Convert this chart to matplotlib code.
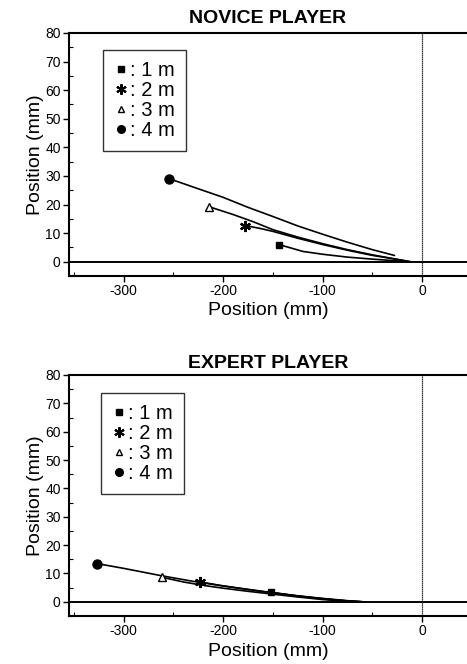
import matplotlib
matplotlib.use('Agg')
import matplotlib.pyplot as plt
from matplotlib.lines import Line2D
from matplotlib.ticker import MultipleLocator

plt.rcParams['font.family'] = ['Liberation Sans', 'DejaVu Sans']
plt.rcParams['axes.unicode_minus'] = False

# novice player trajectories (x, y in mm), first point is the start marker
nov_1m_x = [-144, -120, -100, -75, -50, -30, -15]
nov_1m_y = [6, 3.6, 2.6, 1.6, 0.9, 0.4, 0]
nov_2m_x = [-178, -165, -150, -125, -100, -75, -50, -25, -12]
nov_2m_y = [12.6, 11.8, 10.6, 8.2, 6.0, 4.0, 2.2, 0.8, 0]
nov_3m_x = [-214, -190, -170, -150, -125, -100, -75, -50, -25, -12]
nov_3m_y = [19.2, 16.5, 14.0, 11.2, 8.6, 6.3, 4.2, 2.4, 0.8, 0]
nov_4m_x = [-254, -225, -200, -175, -150, -125, -100, -75, -50, -28]
nov_4m_y = [29, 25.5, 22.5, 19.0, 15.8, 12.5, 9.6, 6.8, 4.2, 2.2]

# expert player trajectories
exp_1m_x = [-152, -125, -100, -75, -60]
exp_1m_y = [3.4, 2.0, 1.0, 0.3, 0]
exp_2m_x = [-223, -200, -175, -150, -125, -100, -75, -60]
exp_2m_y = [7.0, 5.6, 4.4, 3.2, 2.1, 1.1, 0.3, 0]
exp_3m_x = [-262, -240, -220, -200, -175, -150, -125, -100, -75, -60]
exp_3m_y = [8.7, 7.0, 5.8, 4.8, 3.7, 2.7, 1.7, 0.8, 0.2, 0]
exp_4m_x = [-327, -300, -262, -230, -200, -175, -150, -125, -100, -75, -60]
exp_4m_y = [13.5, 11.8, 9.2, 7.2, 5.6, 4.3, 3.1, 2.1, 1.2, 0.4, 0]

labels = [': 1 m', ': 2 m', ': 3 m', ': 4 m']
markers = ['s', (6, 2, 0), '^', 'o']
facecols = ['black', 'black', 'white', 'black']
msizes = [5, 8, 6, 6.5]
legsizes = [4.5, 7.5, 5, 5.5]

panels = [
    ('NOVICE PLAYER', [(nov_1m_x, nov_1m_y), (nov_2m_x, nov_2m_y),
                       (nov_3m_x, nov_3m_y), (nov_4m_x, nov_4m_y)]),
    ('EXPERT PLAYER', [(exp_1m_x, exp_1m_y), (exp_2m_x, exp_2m_y),
                       (exp_3m_x, exp_3m_y), (exp_4m_x, exp_4m_y)]),
]
positions = [[69 / 467, 388 / 664, 398 / 467, 243 / 664],
             [69 / 467, 48 / 664, 398 / 467, 241 / 664]]
leg_anchor = [(0.085, 0.93), (0.08, 0.925)]
title_pad = [7, 5]

fig = plt.figure(figsize=(4.67, 6.64), dpi=100)

for (title, series), pos, anc, tp in zip(panels, positions, leg_anchor, title_pad):
    ax = fig.add_axes(pos)
    ax.set_xlim(-355, 45)
    ax.set_ylim(-5, 80)

    ax.axhline(0, color='black', lw=1.4, zorder=1)
    ax.axvline(0, color='black', lw=0.9, ls=(0, (1, 0.6)), zorder=1)

    for (xs, ys), m, fc, ms in zip(series, markers, facecols, msizes):
        ax.plot(xs, ys, color='black', lw=1.2, zorder=2)
        ax.plot(xs[0], ys[0], marker=m, color='black', mfc=fc, mec='black',
                ms=ms, mew=1.6 if m == (6, 2, 0) else 1.0, ls='none', zorder=3)

    ax.spines['right'].set_visible(False)
    for side in ['left', 'bottom', 'top']:
        ax.spines[side].set_linewidth(1.5)

    ax.xaxis.set_major_locator(MultipleLocator(100))
    ax.xaxis.set_minor_locator(MultipleLocator(50))
    ax.yaxis.set_major_locator(MultipleLocator(10))
    ax.yaxis.set_minor_locator(MultipleLocator(5))
    ax.tick_params(which='major', direction='out', length=4, width=1,
                   labelsize=10, pad=2)
    ax.tick_params(which='minor', direction='in', length=3, width=0.8)

    ax.set_xlabel('Position (mm)', fontsize=14, labelpad=3)
    ax.set_ylabel('Position (mm)', fontsize=14, labelpad=1)
    ax.set_title(title, fontsize=14, fontweight='bold', pad=tp)

    handles = [Line2D([], [], marker=m, color='black', mfc=fc, mec='black',
                      ms=ls, mew=1.5 if m == (6, 2, 0) else 1.0, ls='none')
               for m, fc, ls in zip(markers, facecols, legsizes)]
    leg = ax.legend(handles, labels, loc='upper left', bbox_to_anchor=anc,
                    borderaxespad=0, fontsize=14.5, handlelength=0.7,
                    handletextpad=0.1, labelspacing=0.05, borderpad=0.55,
                    frameon=True, fancybox=False)
    leg.get_frame().set_edgecolor('black')
    leg.get_frame().set_linewidth(1.0)

fig.savefig('out.png', dpi=100)
